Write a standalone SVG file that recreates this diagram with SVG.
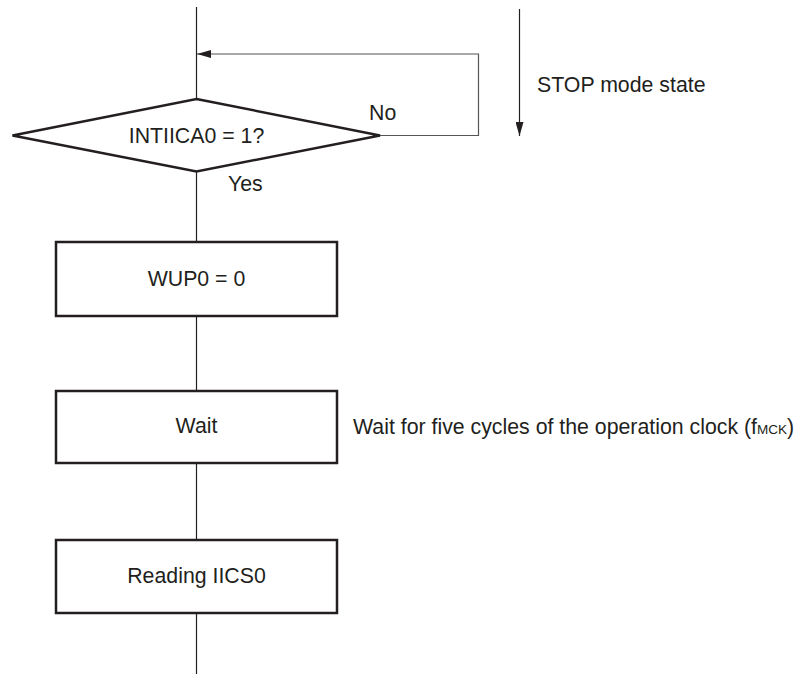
<svg xmlns="http://www.w3.org/2000/svg" width="798" height="675" viewBox="0 0 798 675">
<style>
text{font-family:"Liberation Sans",Arial,sans-serif;font-size:21.3px;fill:#231f20}
.box{fill:#fff;stroke:#231f20;stroke-width:2.5}
.ln{fill:none;stroke:#231f20;stroke-width:1.2}
.lp{fill:none;stroke:#555;stroke-width:1.2}
</style>
<defs>
<marker id="ah" viewBox="0 0 14 8" refX="14" refY="4" markerWidth="14" markerHeight="8" markerUnits="userSpaceOnUse" orient="auto">
<path d="M0,0 L14,4 L0,8 Z" fill="#231f20"/>
</marker>
</defs>
<g id="connectors">
<line class="ln" x1="196.5" y1="7" x2="196.5" y2="99"/>
<line class="ln" x1="196.5" y1="171" x2="196.5" y2="242"/>
<line class="ln" x1="196.5" y1="316" x2="196.5" y2="391"/>
<line class="ln" x1="196.5" y1="463" x2="196.5" y2="540"/>
<line class="ln" x1="196.5" y1="613" x2="196.5" y2="674"/>
<polyline class="lp" points="380,135.5 478.5,135.5 478.5,54 197,54" marker-end="url(#ah)"/>
<line class="ln" x1="519.5" y1="9" x2="519.5" y2="136" marker-end="url(#ah)"/>
</g>
<g id="decision">
<polygon class="box" points="196.5,99 380,135.5 196.5,171.5 12.5,135.5"/>
<text x="196.5" y="142.7" text-anchor="middle">INTIICA0 = 1?</text>
<text x="369" y="120">No</text>
<text x="228" y="190.7">Yes</text>
</g>
<g id="wup0">
<rect class="box" x="56" y="242" width="281" height="74"/>
<text x="196.5" y="286" text-anchor="middle">WUP0 = 0</text>
</g>
<g id="wait">
<rect class="box" x="56" y="391" width="281" height="72"/>
<text x="196.5" y="433" text-anchor="middle">Wait</text>
</g>
<g id="reading">
<rect class="box" x="56" y="540" width="281" height="73"/>
<text x="196.5" y="583" text-anchor="middle">Reading IICS0</text>
</g>
<g id="notes">
<text x="537" y="92">STOP mode state</text>
<text x="353" y="434">Wait for five cycles of the operation clock (f<tspan font-size="13.5">MCK</tspan>)</text>
</g>
</svg>
